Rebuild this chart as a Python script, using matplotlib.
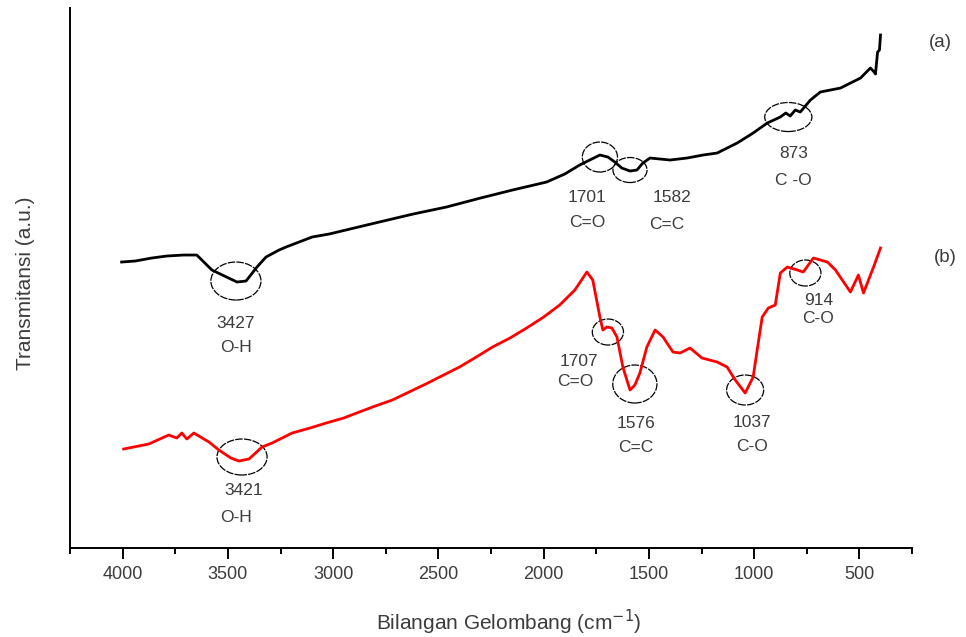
import matplotlib
matplotlib.use("Agg")
import matplotlib.pyplot as plt
from matplotlib.patches import Ellipse
from matplotlib.ticker import MultipleLocator, NullLocator

plt.rcParams['font.family'] = ['Liberation Sans', 'DejaVu Sans']

# ---- data (wavenumber cm-1, transmittance a.u.) ----
wn_a = [4005, 3940, 3862, 3790, 3710, 3648, 3576, 3457, 3414, 3362, 3319, 3257, 3224, 3100, 3019,
        2900, 2781, 2620, 2462, 2300, 2148, 1986, 1900, 1829, 1781, 1733, 1695, 1662, 1629,
        1590, 1557, 1529, 1495, 1400, 1319, 1243, 1176, 1081, 1005, 938, 876, 850, 829,
        805, 781, 733, 686, 590, 495, 448, 430, 424, 414, 405, 400]
tr_a = [286, 287, 290, 292, 293, 293, 278, 266, 267, 281, 291, 298, 301, 311, 314,
        320, 326, 334, 341, 350, 358, 366, 374, 383, 388, 393, 391, 386, 380,
        377, 378, 385, 390, 388, 390, 393, 395, 405, 415, 425, 431, 435, 432,
        438, 436, 448, 456, 460, 470, 480, 476, 474, 496, 498, 513]

wn_b = [3995, 3876, 3781, 3743, 3719, 3695, 3662, 3590, 3543, 3486, 3448, 3400, 3338,
        3290, 3195, 3110, 3033, 2950, 2876, 2800, 2719, 2560, 2400, 2320, 2243, 2160,
        2081, 2000, 1924, 1852, 1795, 1767, 1733, 1719, 1700, 1676, 1652, 1624, 1590,
        1567, 1543, 1510, 1471, 1433, 1386, 1352, 1305, 1248, 1176, 1129, 1090, 1043,
        1005, 986, 962, 933, 900, 876, 843, 795, 767, 719, 652, 614, 543, 505, 481,
        433, 400]
tr_b = [99, 104, 113, 110, 115, 109, 115, 106, 98, 90, 87, 89, 101,
        105, 115, 120, 125, 130, 136, 142, 148, 164, 181, 191, 201, 210,
        220, 231, 243, 258, 276, 268, 231, 218, 221, 220, 211, 181, 158,
        163, 175, 201, 218, 211, 196, 195, 200, 190, 186, 181, 168, 155,
        171, 198, 231, 240, 243, 275, 281, 278, 276, 290, 286, 278, 256, 273, 255,
        281, 300]

x_ticks = [4000, 3500, 3000, 2500, 2000, 1500, 1000, 500]

# ---- annotations: (circle centre wn, tr, width, height) ----
circles = [(3462, 267, 238, 38), (1733, 391, 167, 30), (1590, 378, 162, 25),
           (838, 431, 224, 29), (3433, 91, 238, 36), (1695, 216, 148, 26),
           (1567, 164, 210, 38), (1043, 158, 176, 30), (757, 275, 148, 26)]
labels = [("3427", 3462, 225), ("O-H", 3462, 201),
          ("1701", 1795, 351), ("C=O", 1795, 326),
          ("1582", 1390, 351), ("C=C", 1414, 324),
          ("873", 814, 395), ("C -O", 814, 368),
          ("914", 695, 248), ("C-O", 695, 230),
          ("1707", 1833, 187), ("C=O", 1848, 167),
          ("1576", 1562, 125), ("C=C", 1562, 101),
          ("1037", 1010, 126), ("C-O", 1010, 102),
          ("3421", 3424, 58), ("O-H", 3462, 31)]
panel_labels = [("(a)", 114, 506), ("(b)", 90, 291)]

fig = plt.figure(figsize=(9.66, 6.37), dpi=100)
ax = fig.add_axes([0.0725, 0.1397, 0.8717, 0.8477])

ax.plot(wn_a, tr_a, color='black', lw=2.0, solid_joinstyle='round')
ax.plot(wn_b, tr_b, color='#ff0000', lw=2.0, solid_joinstyle='round')

for (cx, cy, w, h) in circles:
    ax.add_patch(Ellipse((cx, cy), w, h, fill=False, edgecolor='black',
                         lw=0.9, linestyle=(0, (6, 1))))

txtc = '#3c3c3c'
for (t, x, y) in labels:
    ax.text(x, y, t, ha='center', va='center', fontsize=12.5, color=txtc)
for (t, x, y) in panel_labels:
    ax.text(x, y, t, ha='center', va='center', fontsize=13.5, color=txtc, clip_on=False)

ax.set_xlim(4250, 250)
ax.set_ylim(0, 540)
ax.xaxis.set_major_locator(MultipleLocator(500))
ax.xaxis.set_minor_locator(MultipleLocator(250))
ax.set_xticks(x_ticks)
ax.set_xticklabels([str(v) for v in x_ticks])
ax.yaxis.set_major_locator(NullLocator())

for s in ['top', 'right']:
    ax.spines[s].set_visible(False)
for s in ['left', 'bottom']:
    ax.spines[s].set_linewidth(1.4)

ax.tick_params(axis='x', which='major', direction='out', length=8, width=1.4,
               pad=5, labelsize=13, labelcolor=txtc)
ax.tick_params(axis='x', which='minor', direction='out', length=4.5, width=1.4)

ax.set_xlabel('Bilangan Gelombang (cm$^{-1}$)', fontsize=15, color=txtc)
ax.xaxis.label.set_va('center')
ax.xaxis.set_label_coords(0.521, -0.137)
ax.set_ylabel('Transmitansi (a.u.)', fontsize=15, color=txtc)
ax.yaxis.label.set_va('center')
ax.yaxis.set_label_coords(-0.053, 0.49)

fig.savefig('out.png', dpi=100)
